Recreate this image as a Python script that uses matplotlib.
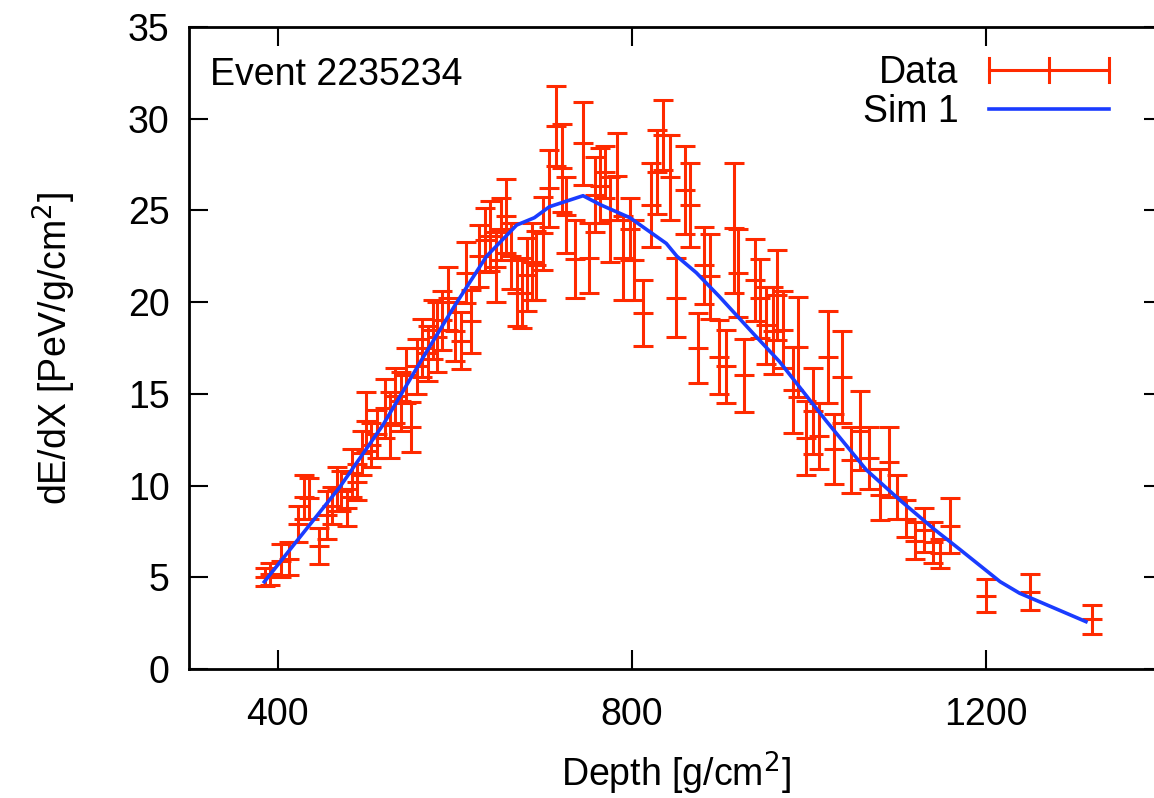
import matplotlib
matplotlib.use("Agg")
import matplotlib.pyplot as plt
from matplotlib.legend_handler import HandlerBase
from matplotlib.lines import Line2D

plt.rcParams["font.family"] = ["Liberation Sans", "DejaVu Sans"]

# Datos: profundidad, dE/dX y error
depth = [386, 392, 404, 413, 423, 430, 436, 447, 456, 462, 467, 472, 478, 484, 490,
         495, 500, 506, 512, 521, 527, 533, 539, 545, 551, 557, 563, 570, 575, 580,
         586, 592, 600, 607, 613, 619, 627, 634, 640, 647, 652, 658, 664, 670, 676,
         682, 687, 692, 700, 707, 715, 721, 726, 736, 745, 752, 758, 764, 770, 775,
         783, 790, 798, 802, 813, 822, 829, 835, 843, 850, 860, 866, 875, 882, 888,
         899, 907, 916, 920, 927, 939, 945, 952, 959, 964, 971, 982, 988, 997, 1005,
         1012, 1022, 1028, 1037, 1048, 1058, 1068, 1080, 1090, 1100, 1110, 1120, 1130,
         1140, 1148, 1160, 1200, 1250, 1320]
dedx = [5.0, 5.2, 5.9, 6.0, 7.9, 9.4, 9.3, 6.7, 8.4, 8.9, 9.8, 9.7, 8.8, 10.7, 10.2,
        11.8, 13.5, 12.2, 12.8, 14.2, 13.3, 14.9, 14.6, 16.0, 13.2, 16.5, 17.5, 17.2, 18.5, 18.1,
        19.0, 20.2, 18.4, 17.9, 21.6, 18.95, 22.5, 23.4, 23.6, 21.9, 24.0, 24.7, 22.5, 20.5, 20.5,
        21.5, 22.2, 22.0, 23.75, 26.2, 29.6, 27.3, 24.75, 22.35, 28.65, 22.4, 25.85, 26.35, 27.1, 24.5,
        26.85, 22.4, 24.0, 22.3, 19.4, 25.3, 27.1, 29.1, 26.8, 20.25, 26.1, 25.3, 17.5, 22.0, 21.4,
        17.0, 16.5, 24.05, 21.6, 16.0, 21.2, 20.2, 18.75, 18.45, 20.4, 18.5, 15.2, 17.55, 12.6, 14.05,
        12.7, 17.0, 12.0, 15.9, 11.4, 13.0, 11.5, 9.5, 11.3, 9.4, 8.2, 7.0, 7.6,
        6.9, 6.3, 7.8, 4.0, 4.2, 2.7]
error = [0.5, 0.6, 0.9, 0.9, 1.0, 1.2, 1.1, 1.0, 1.3, 1.0, 1.2, 1.1, 1.0, 1.3, 1.0,
         1.2, 1.6, 1.2, 1.3, 1.6, 1.8, 1.5, 1.6, 1.5, 1.35, 1.5, 1.6, 1.5, 1.6, 1.9,
         1.6, 1.7, 1.6, 1.55, 1.65, 1.7, 1.7, 1.75, 1.9, 1.9, 1.7, 2.0, 1.8, 1.8, 1.9,
         2.0, 2.1, 1.9, 2.0, 2.1, 2.2, 2.4, 2.05, 2.1, 2.25, 1.9, 2.05, 2.05, 1.4, 2.3,
         2.35, 2.3, 1.7, 2.2, 1.8, 2.3, 2.3, 1.9, 2.3, 2.15, 2.4, 2.3, 1.9, 2.1, 2.3,
         2.0, 2.0, 3.55, 2.4, 2.0, 2.25, 2.15, 2.1, 2.35, 2.45, 2.1, 2.35, 2.75, 2.0, 2.35,
         1.8, 2.5, 1.9, 2.5, 1.8, 2.15, 1.7, 1.4, 1.9, 1.2, 1.0, 1.0, 1.2,
         1.1, 0.8, 1.5, 0.9, 1.0, 0.8]

# Curva simulada
sim_depth = [385, 470, 519, 562, 600, 636, 670, 690, 707, 745, 765, 798, 839, 851,
             873, 899, 937, 967, 1020, 1065, 1103, 1142, 1171, 1216, 1238, 1313]
sim_dedx = [4.75, 9.9, 13.3, 16.8, 19.8, 22.5, 24.2, 24.6, 25.2, 25.8, 25.3, 24.6, 23.2, 22.5,
            21.6, 20.3, 18.3, 16.75, 13.5, 10.85, 9.2, 7.6, 6.5, 4.76, 4.13, 2.58]

ROJO = "#ff2a00"
AZUL = "#1a3cff"
TAM = 27


class HandlerBarraError(HandlerBase):
    """Dibuja la entrada de leyenda al estilo gnuplot: linea horizontal con tres marcas."""

    def create_artists(self, legend, orig_handle, xdescent, ydescent, width, height,
                       fontsize, trans):
        y = height / 2 - ydescent
        h = height * 0.45
        artistas = [Line2D([-xdescent, width - xdescent], [y, y])]
        for xp in (-xdescent, width / 2 - xdescent, width - xdescent):
            artistas.append(Line2D([xp, xp], [y - h, y + h]))
        for a in artistas:
            a.set_color(ROJO)
            a.set_linewidth(2.2)
            a.set_transform(trans)
        return artistas


fig = plt.figure(figsize=(11.54, 7.98), dpi=100)
ax = fig.add_axes([0.1638, 0.1617, 0.844, 0.8045])

ax.errorbar(depth, dedx, yerr=error, fmt="_", color=ROJO, ecolor=ROJO,
            elinewidth=2.2, capsize=7, capthick=2.2, markersize=14, mew=2.2, zorder=2)
ax.plot(sim_depth, sim_dedx, color=AZUL, lw=2.6, zorder=3)

ax.set_xlim(300, 1400)
ax.set_ylim(0, 35)
ax.set_xticks([400, 800, 1200])
ax.set_yticks(range(0, 36, 5))
ax.tick_params(direction="in", length=14, width=1.5, labelsize=TAM, top=True, right=True)
ax.tick_params(axis="x", pad=20)
ax.tick_params(axis="y", pad=14)
for lado in ax.spines.values():
    lado.set_linewidth(2.0)

ax.set_xlabel("Depth [g/cm$^2$]", fontsize=TAM, labelpad=12)
ax.set_ylabel("dE/dX [PeV/g/cm$^2$]", fontsize=TAM, labelpad=36)

ax.text(0.022, 0.925, "Event 2235234", transform=ax.transAxes, fontsize=TAM,
        ha="left", va="center")

datos_leyenda = Line2D([], [], color=ROJO)
sim_leyenda = Line2D([], [], color=AZUL, lw=2.6)
ax.legend([datos_leyenda, sim_leyenda], ["Data", "Sim 1"],
          handler_map={datos_leyenda: HandlerBarraError()},
          loc="upper right", bbox_to_anchor=(0.973, 1.0), frameon=False,
          markerfirst=False, fontsize=TAM, handlelength=3.2, handletextpad=0.8,
          labelspacing=0.08, borderaxespad=0.35)

fig.savefig("out.png", dpi=100)
